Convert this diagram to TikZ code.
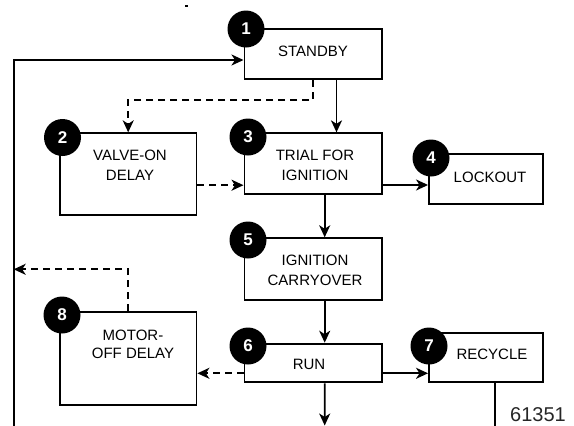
\documentclass[tikz,border=0pt]{standalone}
\usepackage{fontspec}
\setmainfont{Liberation Sans}
\usepackage{tikz}
\usetikzlibrary{arrows.meta}

\begin{document}
\begin{tikzpicture}[x=1pt,y=-1pt,line width=1.9pt,
  box/.style={draw, rectangle, inner sep=0pt},
  lbl/.style={align=center, inner sep=0pt, font=\fontsize{15}{20}\selectfont},
  num/.style={circle, fill=black, minimum size=37pt, inner sep=0pt,
              text=white, font=\bfseries\fontsize{17}{17}\selectfont},
  arr/.style={-{Stealth[length=12pt,width=11pt,inset=3.5pt]}},
  dsh/.style={arr, dash pattern=on 7pt off 5pt}]
\useasboundingbox (0,0) rectangle (574,426);
\node[box, minimum width=137.3pt, minimum height=50.4pt] (standby)  at (313.1,53.9) {};
\node[box, minimum width=136.5pt, minimum height=81.8pt] (valveon)  at (128.2,174.2) {};
\node[box, minimum width=137.3pt, minimum height=60.8pt] (trial)    at (313.1,163.7) {};
\node[box, minimum width=113.6pt, minimum height=49.8pt] (lockout)  at (485.8,179.2) {};
\node[box, minimum width=137.3pt, minimum height=61.5pt] (carry)    at (313.1,269) {};
\node[box, minimum width=137.3pt, minimum height=38.7pt] (run)      at (313.1,363) {};
\node[box, minimum width=113.6pt, minimum height=49.7pt] (recycle)  at (485.8,357.5) {};
\node[box, minimum width=136.5pt, minimum height=92.8pt] (motoroff) at (128.2,358.4) {};

\node[lbl] (standby-t)  at (313,51)  {STANDBY};
\node[lbl] (valveon-t)  at (130,165) {VALVE-ON\\DELAY};
\node[lbl] (trial-t)    at (315,165) {TRIAL FOR\\IGNITION};
\node[lbl] (lockout-t)  at (490,177) {LOCKOUT};
\node[lbl] (carry-t)    at (315,270) {IGNITION\\CARRYOVER};
\node[lbl] (run-t)      at (309,364) {RUN};
\node[lbl] (recycle-t)  at (492,354) {RECYCLE};
\node[lbl] (motoroff-t) at (133,344) {MOTOR-\\[-2pt]OFF DELAY};

\coordinate (loopin)  at (13.7,60);
\coordinate (loopbl)  at (13.7,426.6);
\coordinate (ret)     at (13.7,269.3);
\coordinate (runout)  at (324.7,425.5);

\draw[arr] ([xshift=23.4pt]standby.south) -- ([xshift=23.4pt]trial.north);
\draw[dsh] (standby.south) -- ++(0,20) -| (valveon.north);
\draw[dsh] ([yshift=-11pt]valveon.east) -- ([yshift=-11pt]valveon.east -| trial.west);
\draw[arr] ([yshift=-21.3pt]trial.east) -- ([yshift=-21.3pt]trial.east -| lockout.west);
\draw[arr] ([xshift=11.6pt]trial.south) -- ([xshift=11.6pt]carry.north);
\draw[arr] ([xshift=11.6pt]carry.south) -- ([xshift=11.6pt]run.north);
\draw[arr] ([yshift=-10.3pt]run.east) -- ([yshift=-10.3pt]run.east -| recycle.west);
\draw[dsh] ([yshift=-10.3pt]run.west) -- ([yshift=-10.3pt]run.west -| motoroff.east);
\draw[dsh] (motoroff.north) |- (ret);
\draw[arr] ([xshift=11.6pt]run.south) -- (runout);
\draw[arr] ([xshift=9.5pt]recycle.south) |- (loopbl) -- (loopin) -- (loopin -| standby.west);

\node[num] (n1) at (246,29)  {1};
\node[num] (n2) at (62.5,137.5) {2};
\node[num] (n3) at (248,137) {3};
\node[num] (n4) at (431,158) {4};
\node[num] (n5) at (248,240) {5};
\node[num] (n6) at (248,346) {6};
\node[num] (n7) at (429,346) {7};
\node[num] (n8) at (62,315)  {8};

\node[inner sep=0pt, text=black!85, font=\fontsize{20}{21}\selectfont] (fig) at (538,414.5) {61351};
\fill (185,5) rectangle (188,6.5);
\end{tikzpicture}
\end{document}
